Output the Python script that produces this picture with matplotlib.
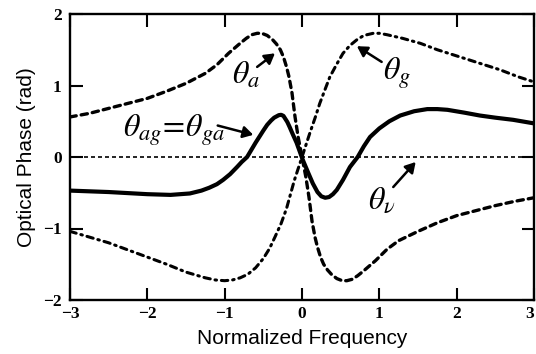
import matplotlib
matplotlib.use("Agg")
import matplotlib.pyplot as plt

# ---- data ----
theta_a_x = [-3.0, -2.75, -2.5, -2.25, -2.0, -1.75, -1.5, -1.25, -1.1, -0.95, -0.8, -0.72,
             -0.65, -0.58, -0.52, -0.45, -0.38, -0.33, -0.28, -0.24, -0.2, -0.17, -0.13,
             -0.09, -0.05, 0.0,
             0.05, 0.09, 0.13, 0.17, 0.2, 0.24, 0.28, 0.33, 0.38, 0.45, 0.52, 0.58, 0.65,
             0.72, 0.8, 0.95, 1.1, 1.25, 1.5, 1.75, 2.0, 2.25, 2.5, 2.75, 3.0]
theta_a_y = [0.56, 0.61, 0.68, 0.75, 0.82, 0.92, 1.03, 1.17, 1.29, 1.45, 1.59, 1.66,
             1.71, 1.73, 1.73, 1.70, 1.64, 1.58, 1.50, 1.40, 1.26, 1.13, 0.90,
             0.56, 0.28, 0.0,
             -0.28, -0.56, -0.90, -1.13, -1.26, -1.40, -1.50, -1.58, -1.64, -1.70, -1.73,
             -1.73, -1.71, -1.66, -1.59, -1.45, -1.29, -1.17, -1.04, -0.92, -0.82, -0.75,
             -0.68, -0.62, -0.57]

theta_g_x = [-3.0, -2.75, -2.5, -2.25, -2.0, -1.75, -1.5, -1.25, -1.12, -1.0, -0.9, -0.8,
             -0.7, -0.6, -0.5, -0.42, -0.35, -0.27, -0.2, -0.1, 0.0, 0.1, 0.17, 0.23, 0.3,
             0.36, 0.45, 0.53, 0.62, 0.71, 0.8, 0.92, 1.0, 1.1, 1.3, 1.53, 1.75, 2.04,
             2.3, 2.56, 2.8, 3.0]
theta_g_y = [-1.04, -1.12, -1.20, -1.30, -1.40, -1.50, -1.61, -1.69, -1.72, -1.73, -1.72,
             -1.69, -1.64, -1.55, -1.42, -1.28, -1.12, -0.93, -0.72, -0.33, 0.0, 0.33,
             0.55, 0.75, 0.95, 1.12, 1.30, 1.45, 1.56, 1.64, 1.70, 1.73, 1.73, 1.71, 1.66,
             1.59, 1.50, 1.40, 1.31, 1.22, 1.12, 1.05]

theta_ag_x = [-3.0, -2.5, -2.0, -1.7, -1.45, -1.3, -1.2, -1.1, -1.02, -0.93, -0.84, -0.78,
              -0.71, -0.6, -0.5, -0.45, -0.4, -0.36, -0.3, -0.27, -0.24, -0.19, -0.16,
              -0.12, -0.07, 0.01, 0.08, 0.14, 0.2, 0.25, 0.3, 0.35, 0.4, 0.45, 0.53, 0.62,
              0.72, 0.8, 0.88, 1.0, 1.13, 1.27, 1.45, 1.62, 1.75, 1.88, 2.1, 2.3, 2.5,
              2.73, 3.0]
theta_ag_y = [-0.47, -0.49, -0.52, -0.53, -0.51, -0.47, -0.43, -0.38, -0.32, -0.24, -0.14,
              -0.07, 0.0, 0.2, 0.37, 0.45, 0.51, 0.55, 0.585, 0.59, 0.575, 0.49, 0.42,
              0.32, 0.2, -0.04, -0.22, -0.37, -0.49, -0.55, -0.57, -0.56, -0.52, -0.46,
              -0.32, -0.14, 0.0, 0.15, 0.28, 0.40, 0.50, 0.58, 0.64, 0.67, 0.67, 0.66,
              0.62, 0.58, 0.55, 0.52, 0.47]

theta_v_x = [-3.0, 3.0]
theta_v_y = [0.0, 0.0]

x_ticks = [-3, -2, -1, 0, 1, 2, 3]
x_ticklabels = ["\u22123", "\u22122", "\u22121", "0", "1", "2", "3"]
y_ticks = [-2, -1, 0, 1, 2]
y_ticklabels = ["\u22122", "\u22121", "0", "1", "2"]

labels = {
    "a": r"$\theta_a$",
    "ag": r"$\theta_{ag}\!=\!\theta_{ga}$",
    "g": r"$\theta_g$",
    "v": r"$\theta_\nu$",
}

plt.rcParams["mathtext.fontset"] = "stix"

fig = plt.figure(figsize=(5.36, 3.54), dpi=100)
ax = fig.add_axes([70 / 536, 54 / 354, 464 / 536, 286 / 354])

ax.plot(theta_v_x, theta_v_y, color="black", lw=1.2, dashes=(2.4, 1.8))
ax.plot(theta_a_x, theta_a_y, color="black", lw=2.4, dashes=(1.9, 1.5),
        dash_capstyle="round", solid_joinstyle="round")
ax.plot(theta_g_x, theta_g_y, color="black", lw=2.2, dashes=(2.1, 1.6, 0.5, 1.6),
        dash_capstyle="round")
ax.plot(theta_ag_x, theta_ag_y, color="black", lw=3.0, solid_capstyle="butt",
        solid_joinstyle="round")

ax.set_xlim(-3, 3)
ax.set_ylim(-2, 2)
ax.set_xticks(x_ticks)
ax.set_xticklabels(x_ticklabels)
ax.set_yticks(y_ticks)
ax.set_yticklabels(y_ticklabels)
for lab in ax.get_xticklabels() + ax.get_yticklabels():
    lab.set_fontfamily("Liberation Serif")
    lab.set_fontweight("bold")
    lab.set_fontsize(12.5)
ax.get_xticklabels()[-1].set_horizontalalignment("right")
ax.tick_params(direction="in", top=True, right=True, length=9, width=1.5, pad=4)
ax.tick_params(axis="y", pad=6)
for sp in ax.spines.values():
    sp.set_linewidth(1.7)

ax.set_xlabel("Normalized Frequency", family="Liberation Sans", fontsize=15, labelpad=5)
ax.set_ylabel("Optical Phase (rad)", family="Liberation Sans", fontsize=15, labelpad=5)

arrow_kw = dict(arrowstyle="-|>,head_length=0.6,head_width=0.35", color="black", lw=1.8,
                shrinkA=0, shrinkB=0)
tsize = 23
ax.text(-0.91, 1.03, labels["a"], fontsize=tsize, ha="left", va="baseline")
ax.annotate("", xy=(-0.35, 1.45), xytext=(-0.58, 1.26), arrowprops=arrow_kw)
ax.text(-2.32, 0.28, labels["ag"], fontsize=tsize, ha="left", va="baseline")
ax.annotate("", xy=(-0.63, 0.31), xytext=(-1.09, 0.44), arrowprops=arrow_kw)
ax.text(1.05, 1.08, labels["g"], fontsize=tsize, ha="left", va="baseline")
ax.annotate("", xy=(0.71, 1.55), xytext=(1.03, 1.33), arrowprops=arrow_kw)
ax.text(0.85, -0.73, labels["v"], fontsize=tsize, ha="left", va="baseline")
ax.annotate("", xy=(1.47, -0.07), xytext=(1.18, -0.42), arrowprops=arrow_kw)

fig.savefig("out.png", dpi=100)
